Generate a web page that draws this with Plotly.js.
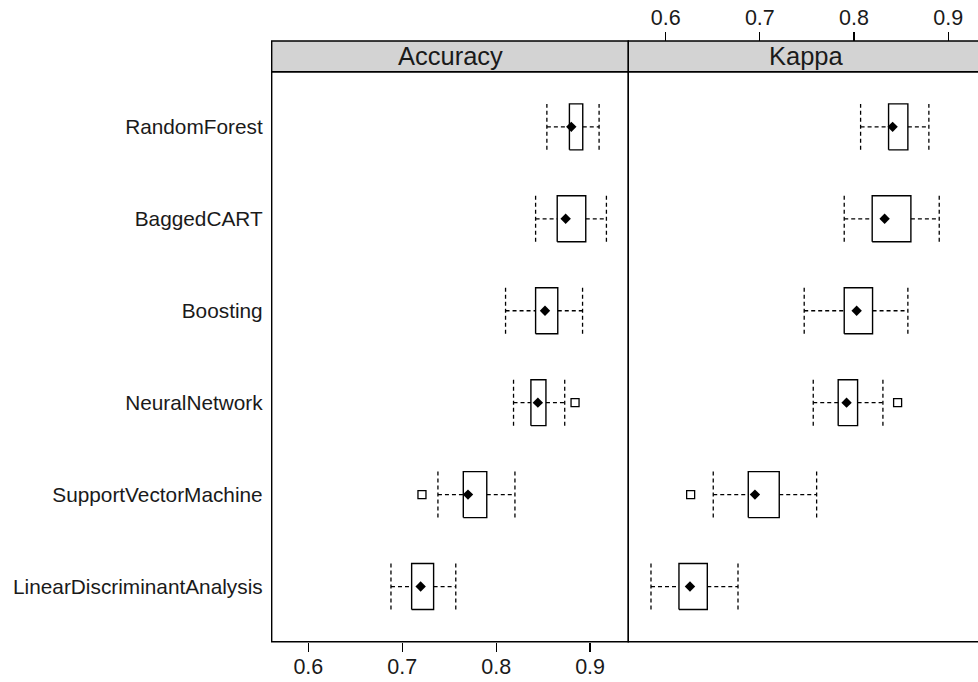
<!DOCTYPE html>
<html><head><meta charset="utf-8">
<script src="https://cdn.plot.ly/plotly-3.0.1.min.js"></script>
<style>html,body{margin:0;padding:0;overflow:hidden;background:#fff}#chart{width:1000px;height:682px}</style>
</head><body><div id="chart"></div><script>
// Categories, bottom to top
const models = ["LinearDiscriminantAnalysis","SupportVectorMachine","NeuralNetwork","Boosting","BaggedCART","RandomForest"];
const panelNames = ["Accuracy","Kappa"];
const tickVals = [0.6,0.7,0.8,0.9];
const tickText = ["0.6","0.7","0.8","0.9"];

// Accuracy resampling summary
const accLowWhisker = [0.688,0.738,0.8185,0.810,0.842,0.854];
const accQ1         = [0.710,0.765,0.837,0.842,0.865,0.878];
const accMedian     = [0.7196,0.770,0.8444,0.852,0.874,0.880];
const accQ3         = [0.7334,0.790,0.853,0.8656,0.8954,0.8922];
const accHighWhisker= [0.757,0.820,0.873,0.892,0.9174,0.9096];
const accOutModel   = ["SupportVectorMachine","NeuralNetwork"];
const accOutValue   = [0.721,0.884];

// Kappa resampling summary
const kapLowWhisker = [0.5844,0.6505,0.7567,0.7471,0.7896,0.807];
const kapQ1         = [0.6141,0.6877,0.7832,0.7896,0.8193,0.8367];
const kapMedian     = [0.6258,0.6948,0.7921,0.8028,0.8325,0.841];
const kapQ3         = [0.6442,0.7206,0.8038,0.8197,0.8604,0.8572];
const kapHighWhisker= [0.6768,0.7603,0.8307,0.8572,0.8905,0.8795];
const kapOutModel   = ["SupportVectorMachine","NeuralNetwork"];
const kapOutValue   = [0.6265,0.8463];

const HALF = 0.25;
const DASH = "4px,3px";

function panelTraces(xa, lo, q1, med, q3, hi, outM, outV){
  const bx=[], by=[], wx=[], wy=[], cx=[], cy=[];
  models.forEach((m,i)=>{
    const c=i+1;
    bx.push(q1[i],q3[i],q3[i],q1[i],q1[i],null);
    by.push(c-HALF,c-HALF,c+HALF,c+HALF,c-HALF,null);
    wx.push(lo[i],q1[i],null,q3[i],hi[i],null);
    wy.push(c,c,null,c,c,null);
    cx.push(lo[i],lo[i],null,hi[i],hi[i],null);
    cy.push(c-HALF,c+HALF,null,c-HALF,c+HALF,null);
  });
  const common={xaxis:xa,yaxis:'y',hoverinfo:'skip',showlegend:false,type:'scatter'};
  return [
    Object.assign({x:wx,y:wy,mode:'lines',line:{color:'#000',width:1.3,dash:DASH}},common),
    Object.assign({x:cx,y:cy,mode:'lines',line:{color:'#000',width:1.3,dash:DASH}},common),
    Object.assign({x:bx,y:by,mode:'lines',line:{color:'#000',width:1.4}},common),
    Object.assign({x:med,y:models.map((m,i)=>i+1),mode:'markers',marker:{symbol:'diamond',size:8,color:'#000'}},common),
    Object.assign({x:outV,y:outM.map(m=>models.indexOf(m)+1),mode:'markers',marker:{symbol:'square-open',size:8,color:'#000',line:{width:1.3}}},common)
  ];
}

const data = [].concat(
  panelTraces('x', accLowWhisker, accQ1, accMedian, accQ3, accHighWhisker, accOutModel, accOutValue),
  panelTraces('x2', kapLowWhisker, kapQ1, kapMedian, kapQ3, kapHighWhisker, kapOutModel, kapOutValue)
);

const W=1000, H=682;
const pL=271.7, pM=628.3, pR=984.9, pT=71.7, pB=641.7, sT=41;
const fx=v=>v/W, fy=v=>(H-v)/H;
const font={family:'"Liberation Sans", Arial, sans-serif',color:'#1a1a1a'};
const tickFont=Object.assign({},font,{size:21.5});
const axBase={showgrid:false,zeroline:false,showline:false,ticks:'outside',ticklen:9,tickwidth:1.3,tickcolor:'#000',tickvals:tickVals,ticktext:tickText,tickfont:tickFont,fixedrange:true};
const accRange=[0.561,0.9407], kapRange=[0.5603,0.939];

const layout={
  width:W,height:H,
  margin:{l:0,r:0,t:0,b:0},
  paper_bgcolor:'#fff',plot_bgcolor:'#fff',
  font:font,
  xaxis:Object.assign({},axBase,{domain:[fx(pL),fx(pM)],range:accRange,anchor:'y',side:'bottom',ticklabelstandoff:-4}),
  xaxis3:Object.assign({},axBase,{overlaying:'x',range:accRange,anchor:'free',position:fy(sT),side:'top',showticklabels:false}),
  xaxis2:Object.assign({},axBase,{domain:[fx(pM),fx(pR)],range:kapRange,anchor:'free',position:fy(sT),side:'top',ticklabelstandoff:-2}),
  xaxis4:Object.assign({},axBase,{overlaying:'x2',range:kapRange,anchor:'y',side:'bottom',showticklabels:false}),
  yaxis:{domain:[fy(pB),fy(pT)],range:[0.4,6.6],showgrid:false,zeroline:false,showline:false,ticks:'',
    tickvals:models.map((m,i)=>i+1),ticktext:models,tickfont:Object.assign({},font,{size:20.8}),ticklabelstandoff:8,fixedrange:true},
  shapes:[
    {type:'rect',xref:'paper',yref:'paper',x0:fx(pL),x1:fx(pM),y0:fy(pT),y1:fy(sT),fillcolor:'#d3d3d3',line:{color:'#000',width:1.4}},
    {type:'rect',xref:'paper',yref:'paper',x0:fx(pM),x1:fx(pR),y0:fy(pT),y1:fy(sT),fillcolor:'#d3d3d3',line:{color:'#000',width:1.4}},
    {type:'rect',xref:'paper',yref:'paper',x0:fx(pL),x1:fx(pM),y0:fy(pB),y1:fy(pT),line:{color:'#000',width:1.4}},
    {type:'rect',xref:'paper',yref:'paper',x0:fx(pM),x1:fx(pR),y0:fy(pB),y1:fy(pT),line:{color:'#000',width:1.4}}
  ],
  annotations:panelNames.map((n,i)=>({
    text:n,xref:'paper',yref:'paper',showarrow:false,
    x:i===0?fx((pL+pM)/2):fx((pM+pR)/2),y:fy((pT+sT)/2),xanchor:'center',yanchor:'middle',
    font:Object.assign({},font,{size:25.5})
  }))
};

Plotly.newPlot('chart',data,layout,{staticPlot:true,displayModeBar:false});
</script></body></html>
